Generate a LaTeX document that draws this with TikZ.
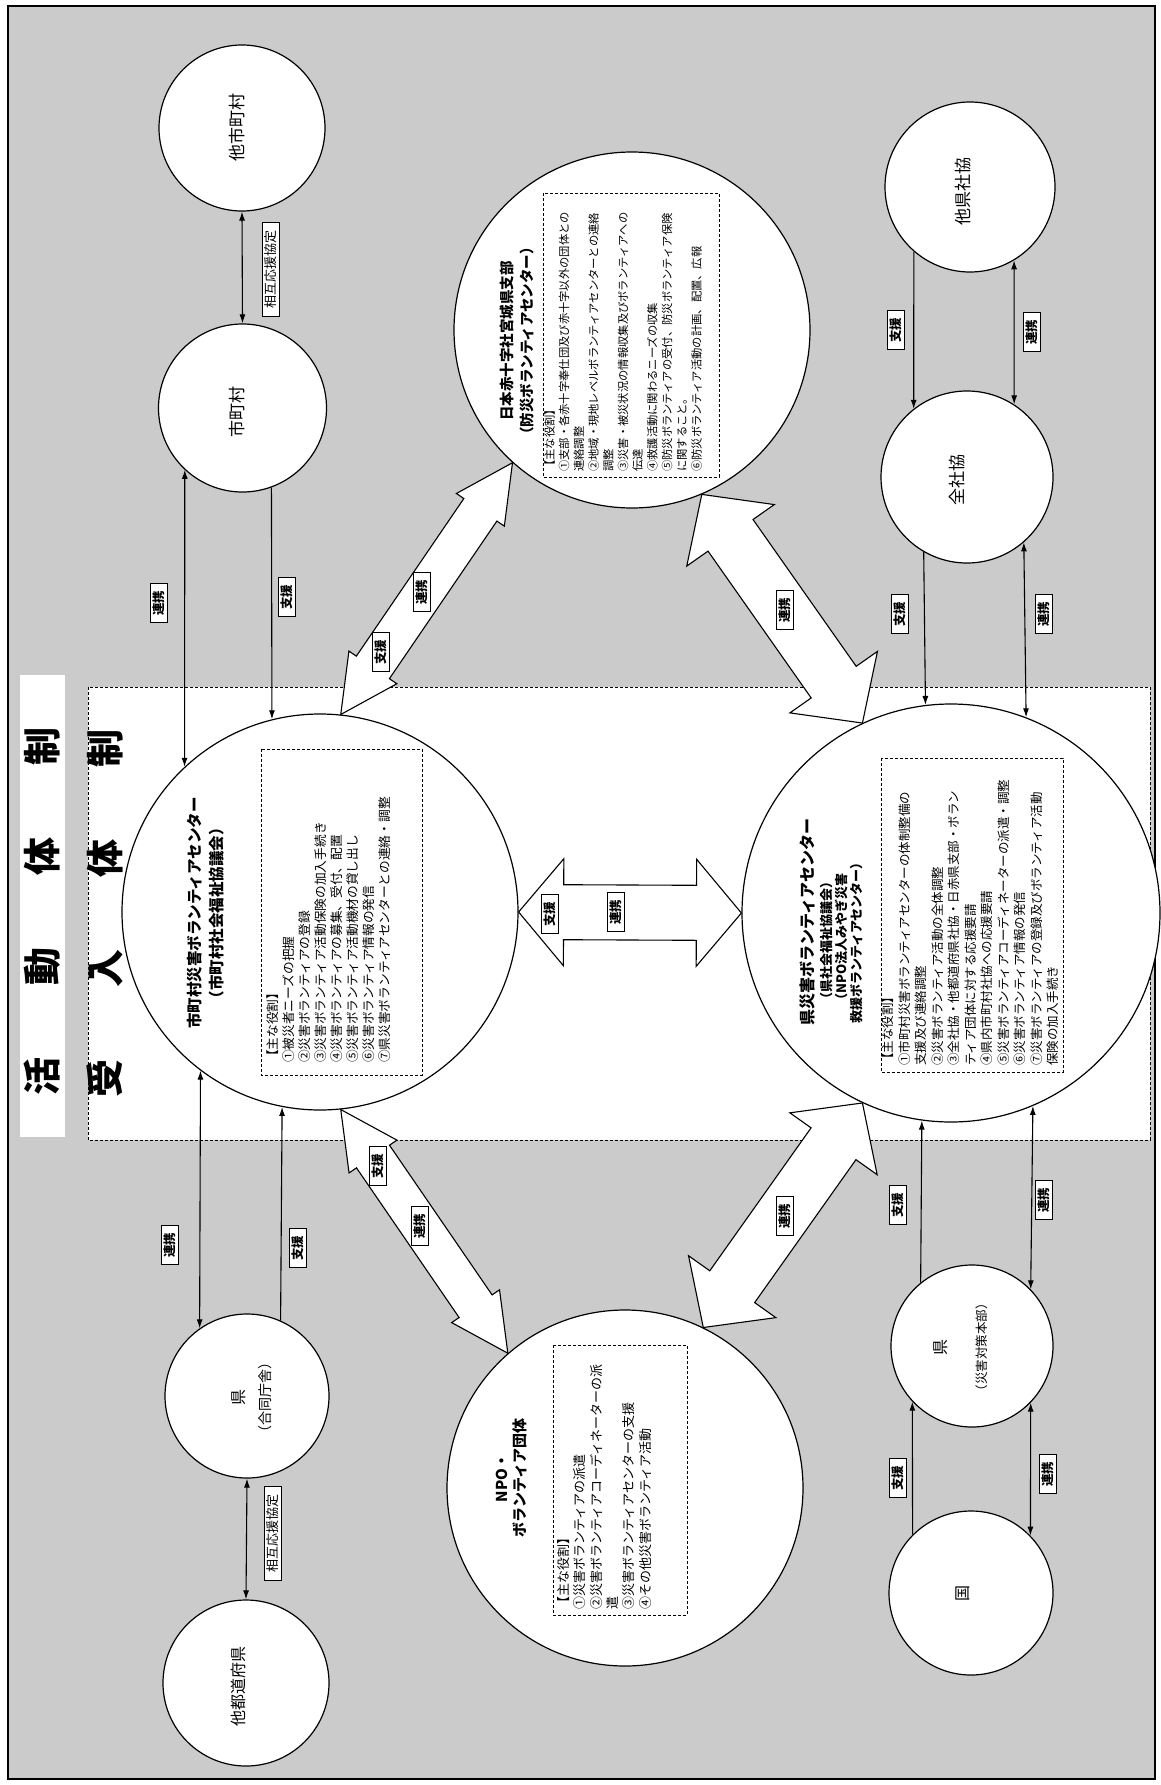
\documentclass[tikz,border=0pt]{standalone}
\usepackage{fontspec}
\newfontfamily\jp{Noto Sans CJK JP}
\usetikzlibrary{calc, arrows.meta}

\definecolor{paper}{RGB}{203,203,203}

\tikzset{
  org/.style={circle, draw, line width=1.2pt, fill=white, inner sep=0pt},
  orgname/.style={rotate=90, align=center, font=\jp\fontsize{17}{21}\selectfont},
  bigname/.style={rotate=90, align=center, font=\jp\bfseries\fontsize{15}{21}\selectfont},
  heading/.style={rotate=90, font=\jp\bfseries\fontsize{38}{38}\selectfont},
  roletext/.style={rotate=90, anchor=north west, align=left, inner sep=0pt},
  rolebox/.style={densely dashed, line width=0.9pt},
  tag/.style={draw, fill=white, rotate=90, line width=0.9pt, inner xsep=7pt, inner ysep=2.5pt,
    font=\jp\bfseries\fontsize{12.5}{12.5}\selectfont},
  pact/.style={tag, inner xsep=8pt, font=\jp\fontsize{13}{13}\selectfont},
  link/.style={line width=1.1pt},
  twoway/.style={link, {Latex[length=9pt,width=6pt]}-{Latex[length=9pt,width=6pt]}},
  oneway/.style={link, -{Latex[length=9pt,width=6pt]}},
  blockarrow/.style={draw, fill=white, line width=1.1pt, line join=miter}
}

% double block arrow: start, end, shaft half width, head half width, head length
\newcommand{\dblarrow}[5]{%
  \coordinate (ba1) at ($(#1)!#5!(#2)$);
  \coordinate (ba2) at ($(#2)!#5!(#1)$);
  \draw[blockarrow] (#1) -- ($(ba1)!#4!90:(#2)$) -- ($(ba1)!#3!90:(#2)$)
    -- ($(ba2)!#3!-90:(#1)$) -- ($(ba2)!#4!-90:(#1)$) -- (#2)
    -- ($(ba2)!#4!90:(#1)$) -- ($(ba2)!#3!90:(#1)$)
    -- ($(ba1)!#3!-90:(#2)$) -- ($(ba1)!#4!-90:(#2)$) -- cycle;}

\begin{document}
\begin{tikzpicture}[x=1pt, y=-1pt]
  \useasboundingbox (0,0) rectangle (1160,1785);

  % Sheet
  \fill[white] (0,0) rectangle (1160,1785);
  \fill[paper] (8,6) rectangle (1155,1779);
  \draw[line width=1.5pt] (8,6) rectangle (1155,1779);

  % Headings
  \fill[white] (20,675) rectangle (65,1137);
  \node[heading] (katsudo) at (42,911) {活\hspace{72pt}動\hspace{72pt}体\hspace{72pt}制};
  \draw[rolebox, fill=white] (88,687) rectangle (1150,1140);
  \node[heading] (ukeire) at (105,913) {受\hspace{72pt}入\hspace{72pt}体\hspace{72pt}制};

  % Small circles
  \node[org, minimum size=166] (tashi) at (242,128) {};
  \node[org, minimum size=168] (shichoson) at (242.5,408) {};
  \node[org, minimum size=170] (takenshakyo) at (970,187) {};
  \node[org, minimum size=172] (zenshakyo) at (967,477) {};
  \node[org, minimum size=164] (kengodo) at (247,1396) {};
  \node[org, minimum size=166] (tato) at (246,1683) {};
  \node[org, minimum size=162] (kensaihon) at (972,1346) {};
  \node[org, minimum size=164] (kuni) at (971,1593) {};

  \node[orgname] at (237,127) {他市町村};
  \node[orgname] at (237,412) {市町村};
  \node[orgname] at (963,191) {他県社協};
  \node[orgname] at (957,480) {全社協};
  \node[orgname, font=\jp\fontsize{14}{16}\selectfont] at (252,1397) {{\fontsize{16}{16}\selectfont 県}\\[10pt]（合同庁舎）};
  \node[orgname, font=\jp\fontsize{16}{16}\selectfont] at (238,1686) {他都道府県};
  \node[orgname, font=\jp\fontsize{12.5}{16}\selectfont] at (961,1347) {{\fontsize{16}{16}\selectfont 県}\\[24pt]（災害対策本部）};
  \node[orgname, font=\jp\fontsize{16}{16}\selectfont] at (963,1593) {国};

  % Big circles
  \node[org, minimum size=356] (nisseki) at (632,330) {};
  \node[org, minimum size=396] (shivc) at (320,912) {};
  \node[org, minimum size=418] (kenvc) at (951,913) {};
  \node[org, minimum size=356] (npo) at (625,1488) {};

  % Names and roles
  \node[bigname, font=\jp\bfseries\fontsize{14.5}{20}\selectfont] at (517,341)
    {日本赤十字社宮城県支部\\（防災ボランティアセンター）};
  \draw[rolebox] (543,193) rectangle (719,477);
  \node[roletext, font=\jp\fontsize{11.3}{14.7}\selectfont] (nissekirole) at (544,472) {%
    【主な役割】\\
    ①支部・各赤十字奉仕団及び赤十字以外の団体との\\
    連絡調整\\
    ②地域・現地レベルボランティアセンターとの連絡\\
    調整\\
    ③災害・被災状況の情報収集及びボランティアへの\\
    伝達\\
    ④救護活動に関わるニーズの収集\\
    ⑤防災ボランティアの受付、防災ボランティア保険\\
    に関すること。\\
    ⑥防災ボランティア活動の計画、配置、広報};

  \node[bigname, font=\jp\bfseries\fontsize{15.5}{22}\selectfont] at (206,913)
    {市町村災害ボランティアセンター\\（市町村社会福祉協議会）};
  \draw[rolebox] (261,749) rectangle (422,1075);
  \node[roletext, font=\jp\fontsize{12.7}{16}\selectfont] (shivcrole) at (267,1063) {%
    【主な役割】\\
    ①被災者ニーズの把握\\
    ②災害ボランティアの登録\\
    ③災害ボランティア活動保険の加入手続き\\
    ④災害ボランティアの募集、受付、配置\\
    ⑤災害ボランティア活動機材の貸し出し\\
    ⑥災害ボランティア情報の発信\\
    ⑦県災害ボランティアセンターとの連絡・調整};

  \node[bigname, font=\jp\bfseries\fontsize{16}{20}\selectfont] at (807,922)
    {県災害ボランティアセンター};
  \node[bigname, font=\jp\bfseries\fontsize{13}{15}\selectfont] at (842,940)
    {（県社会福祉協議会）\\（NPO法人みやぎ災害\\救援ボランティアセンター）};
  \draw[rolebox] (881,758) rectangle (1063,1072);
  \node[roletext, font=\jp\fontsize{12.5}{16.5}\selectfont] (kenvcrole) at (882,1066) {%
    【主な役割】\\
    ①市町村災害ボランティアセンターの体制整備の\\
    支援及び連絡調整\\
    ②災害ボランティア活動の全体調整\\
    ③全社協・他都道府県社協・日赤県支部・ボラン\\
    ティア団体に対する応援要請\\
    ④県内市町村社協への応援要請\\
    ⑤災害ボランティアコーディネーターの派遣・調整\\
    ⑥災害ボランティア情報の発信\\
    ⑦災害ボランティアの登録及びボランティア活動\\
    保険の加入手続き};

  \node[bigname, font=\jp\bfseries\fontsize{15}{18}\selectfont] at (512,1478)
    {NPO・\\ボランティア団体};
  \draw[rolebox] (553,1345) rectangle (687,1615);
  \node[roletext, font=\jp\fontsize{13}{16.4}\selectfont] (nporole) at (557,1610) {%
    【主な役割】\\
    ①災害ボランティアの派遣\\
    ②災害ボランティアコーディネーターの派\\
    遣\\
    ③災害ボランティアセンターの支援\\
    ④その他災害ボランティア活動};

  % Block arrows
  \dblarrow{shivc.84.4}{nisseki.-132.7}{20pt}{29pt}{57pt}
  \dblarrow{nisseki.-67.4}{kenvc.115.5}{27.5pt}{53.5pt}{50pt}
  \dblarrow{shivc.0}{kenvc.180}{27.5pt}{53.5pt}{45pt}
  \dblarrow{shivc.-84.4}{npo.131}{20pt}{29pt}{57pt}
  \dblarrow{npo.64.2}{kenvc.-115.5}{27.5pt}{53.5pt}{50pt}

  % Connectors
  \draw[twoway] (tashi.south) -- (shichoson.north);
  \draw[twoway] (shichoson.-133.2) -- (shivc.133);
  \draw[oneway] (shichoson.-70.9) -- (shivc.104.6);
  \draw[twoway] (shivc.-127.7) -- (kengodo.125.8);
  \draw[oneway] (kengodo.66.3) -- (shivc.-101.7);
  \draw[twoway] (kengodo.south) -- (tato.north);
  \draw[oneway] (takenshakyo.-131.2) -- (zenshakyo.128);
  \draw[twoway] (takenshakyo.-59.8) -- (zenshakyo.57.9);
  \draw[oneway] (zenshakyo.-120.8) -- (kenvc.97.7);
  \draw[twoway] (zenshakyo.-49.4) -- (kenvc.69.9);
  \draw[oneway] (kensaihon.129.9) -- (kenvc.-98.5);
  \draw[twoway] (kenvc.-67.8) -- (kensaihon.44.3);
  \draw[oneway] (kuni.135.3) -- (kensaihon.-137.1);
  \draw[twoway] (kensaihon.-44.3) -- (kuni.44);

  % Tags
  \node[pact] at (271,269) {相互応援協定};
  \node[pact] at (273,1533) {相互応援協定};
  \node[tag] at (159,603) {連携};
  \node[tag] at (287,597) {支援};
  \node[tag] at (170,1245) {連携};
  \node[tag] at (298,1248) {支援};
  \node[tag] at (896,330) {支援};
  \node[tag] at (1032,332) {連携};
  \node[tag] at (900,614) {支援};
  \node[tag] at (1044,614) {連携};
  \node[tag] at (898,1205) {支援};
  \node[tag] at (1044,1200) {連携};
  \node[tag] at (898,1478) {支援};
  \node[tag] at (1048,1474) {連携};
  \node[tag] at (422,592) {連携};
  \node[tag] at (381,652) {支援};
  \node[tag] at (550,914) {支援};
  \node[tag] at (616,912) {連携};
  \node[tag] at (785,610) {連携};
  \node[tag] at (785,1216) {連携};
  \node[tag] at (378,1166) {支援};
  \node[tag] at (420,1226) {連携};
\end{tikzpicture}
\end{document}
